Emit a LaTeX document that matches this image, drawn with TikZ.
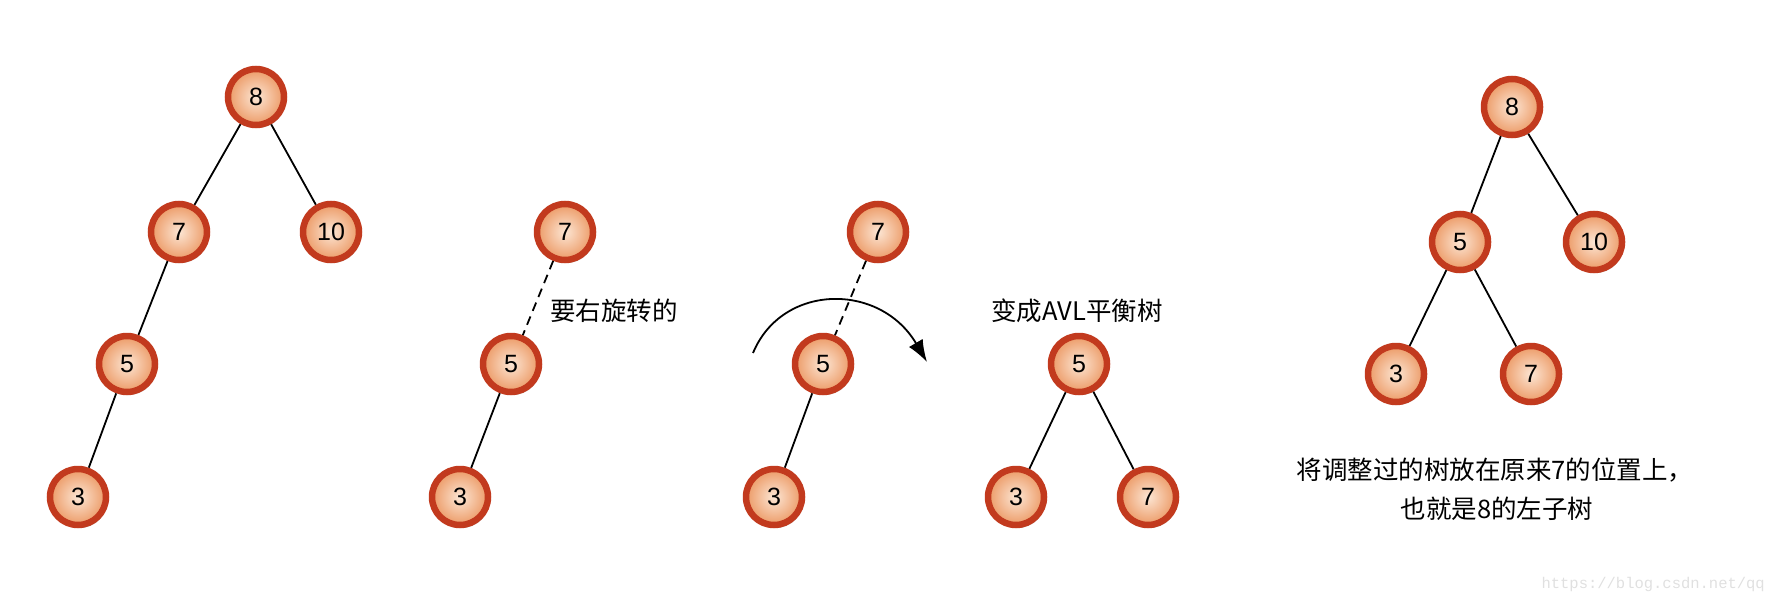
\documentclass[tikz,border=0pt]{standalone}
\usepackage{fontspec}
\setmainfont{Liberation Sans}
\newfontfamily\cjk{Noto Sans CJK SC}
\newfontfamily\wm{Liberation Mono}
\usetikzlibrary{arrows.meta,shadows}
\definecolor{ringred}{HTML}{C23A1E}
\definecolor{inorange}{HTML}{FCE6D4}
\definecolor{outorange}{HTML}{EC9A66}
\tikzset{
  tnode/.style={circle, minimum size=56pt, inner sep=0pt, draw=ringred, line width=6.5pt,
    inner color=inorange, outer color=outorange,
    drop shadow={opacity=0.25, shadow xshift=1.5pt, shadow yshift=-3pt, fill=black},
    font=\fontsize{25}{25}\selectfont},
  tedge/.style={line width=1.8pt, black},
  dedge/.style={line width=1.8pt, black, dash pattern=on 9pt off 6pt},
  lbl/.style={font=\cjk\fontsize{25.5}{32}\selectfont, align=center, inner sep=0pt}
}
\begin{document}
\begin{tikzpicture}[x=1pt,y=-1pt]
\useasboundingbox (0,0) rectangle (1768,594);
% tree 1
\node[tnode] (a8) at (256,97) {8};
\node[tnode] (a7) at (179,232) {7};
\node[tnode] (a10) at (331,232) {10};
\node[tnode] (a5) at (127,364) {5};
\node[tnode] (a3) at (78,497) {3};
\draw[tedge] (a8) -- (a7);
\draw[tedge] (a8) -- (a10);
\draw[tedge] (a7) -- (a5);
\draw[tedge] (a5) -- (a3);
% tree 2
\node[tnode] (b7) at (565,232) {7};
\node[tnode] (b5) at (511,364) {5};
\node[tnode] (b3) at (460,497) {3};
\draw[dedge] (b7) -- (b5);
\draw[tedge] (b5) -- (b3);
\node[lbl, anchor=west] (t1) at (550,311) {要右旋转的};
% tree 3
\node[tnode] (c7) at (878,232) {7};
\node[tnode] (c5) at (823,364) {5};
\node[tnode] (c3) at (774,497) {3};
\draw[dedge] (c7) -- (c5);
\draw[tedge] (c5) -- (c3);
\coordinate (arS) at (753,353);
\coordinate (arE) at (927,362);
\draw[line width=1.8pt, -{Latex[length=22pt,width=16pt]}] (arS) .. controls (782,283) and (880,282) .. (arE);
% tree 4
\node[lbl] (t2) at (1077,311) {变成AVL平衡树};
\node[tnode] (d5) at (1079,364) {5};
\node[tnode] (d3) at (1016,497) {3};
\node[tnode] (d7) at (1148,497) {7};
\draw[tedge] (d5) -- (d3);
\draw[tedge] (d5) -- (d7);
% tree 5
\node[tnode] (e8) at (1512,107) {8};
\node[tnode] (e5) at (1460,242) {5};
\node[tnode] (e10) at (1594,242) {10};
\node[tnode] (e3) at (1396,374) {3};
\node[tnode] (e7) at (1531,374) {7};
\draw[tedge] (e8) -- (e5);
\draw[tedge] (e8) -- (e10);
\draw[tedge] (e5) -- (e3);
\draw[tedge] (e5) -- (e7);
\node[lbl] (t3) at (1495,470) {将调整过的树放在原来7的位置上，};
\node[lbl] (t4) at (1497,509) {也就是8的左子树};
\node[font=\wm\fontsize{15.5}{16}\selectfont, text=black!12, anchor=east, inner sep=0pt] (wm) at (1765,584) {https://blog.csdn.net/qq};
\end{tikzpicture}
\end{document}
